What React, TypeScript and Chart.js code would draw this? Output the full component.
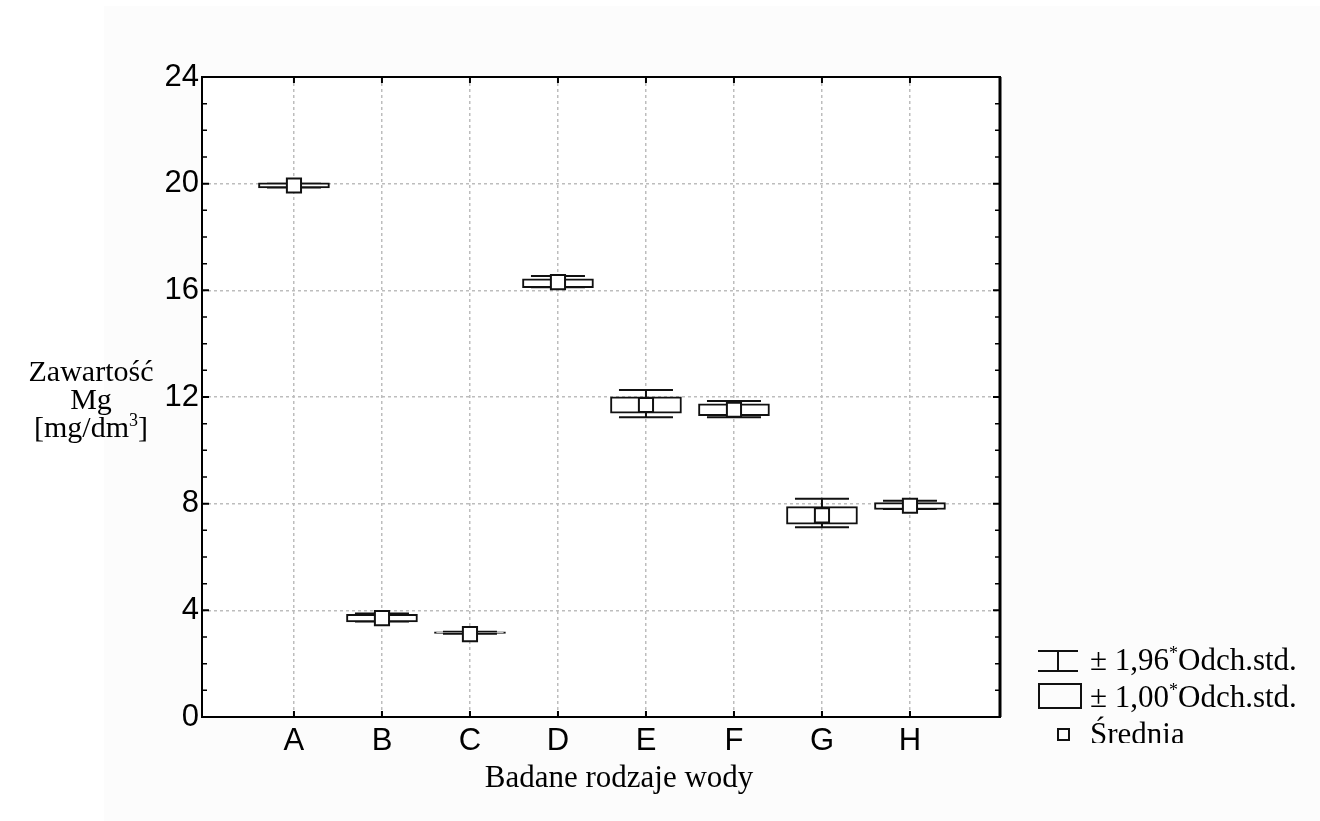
import { useEffect, useRef } from "react";
import { Chart, registerables } from "chart.js";

Chart.register(...registerables);

const categories = ["A", "B", "C", "D", "E", "F", "G", "H"];
const means = [19.93, 3.71, 3.11, 16.31, 11.7, 11.52, 7.56, 7.92];
const boxLow = [19.84, 3.57, 3.13, 16.1, 11.39, 11.3, 7.23, 7.78];
const boxHigh = [20.03, 3.85, 3.19, 16.43, 12.01, 11.74, 7.89, 8.04];
const whiskerLow = [19.86, 3.58, 3.12, 16.12, 11.24, 11.24, 7.12, 7.8];
const whiskerHigh = [20.0, 3.88, 3.2, 16.54, 12.26, 11.85, 8.18, 8.11];
const yTickValues = [0, 4, 8, 12, 16, 20, 24];

const framePlugin = {
  id: "frame",
  beforeDraw(chart: any) {
    const { ctx, chartArea: a } = chart;
    ctx.save();
    ctx.fillStyle = "#ffffff";
    ctx.fillRect(a.left, a.top, a.right - a.left, a.bottom - a.top);
    ctx.restore();
  },
  beforeDatasetsDraw(chart: any) {
    const { ctx } = chart;
    const x = chart.scales.x;
    const y = chart.scales.y;
    ctx.save();
    ctx.strokeStyle = "#111";
    ctx.lineWidth = 2;
    categories.forEach((_, i) => {
      const px = x.getPixelForValue(i + 1);
      const yh = y.getPixelForValue(whiskerHigh[i]);
      const yl = y.getPixelForValue(whiskerLow[i]);
      ctx.beginPath();
      ctx.moveTo(px, yh);
      ctx.lineTo(px, yl);
      ctx.moveTo(px - 27, yh);
      ctx.lineTo(px + 27, yh);
      ctx.moveTo(px - 27, yl);
      ctx.lineTo(px + 27, yl);
      ctx.stroke();
    });
    ctx.restore();
  },
  afterDraw(chart: any) {
    const { ctx, chartArea: a } = chart;
    const x = chart.scales.x;
    const y = chart.scales.y;
    ctx.save();
    ctx.strokeStyle = "#000";
    for (let v = 0; v <= 24; v++) {
      const py = y.getPixelForValue(v);
      const major = v % 4 === 0;
      const len = major ? 7 : 5;
      ctx.lineWidth = major ? 2 : 1.5;
      ctx.beginPath();
      ctx.moveTo(a.left, py);
      ctx.lineTo(a.left + len, py);
      ctx.moveTo(a.right, py);
      ctx.lineTo(a.right - len, py);
      ctx.stroke();
    }
    ctx.lineWidth = 2;
    categories.forEach((_, i) => {
      const px = x.getPixelForValue(i + 1);
      ctx.beginPath();
      ctx.moveTo(px, a.bottom);
      ctx.lineTo(px, a.bottom - 6);
      ctx.moveTo(px, a.top);
      ctx.lineTo(px, a.top + 6);
      ctx.stroke();
    });
    ctx.lineWidth = 2;
    ctx.strokeRect(a.left, a.top, a.right - a.left, a.bottom - a.top);
    ctx.lineWidth = 3;
    ctx.beginPath();
    ctx.moveTo(a.right, a.top);
    ctx.lineTo(a.right, a.bottom);
    ctx.stroke();
    ctx.restore();
  },
};

export default function App() {
  const ref = useRef<HTMLCanvasElement>(null);

  useEffect(() => {
    if (!ref.current) return;
    const chart = new Chart(ref.current, {
      type: "bar",
      data: {
        datasets: [
          {
            type: "scatter",
            label: "Średnia",
            data: categories.map((_, i) => ({ x: i + 1, y: means[i] })),
            pointStyle: "rect",
            pointRadius: 10,
            pointBackgroundColor: "#ffffff",
            pointBorderColor: "#111",
            pointBorderWidth: 2,
            order: 0,
          } as any,
          {
            type: "bar",
            label: "± 1,00*Odch.std.",
            data: categories.map((_, i) => ({ x: i + 1, y: [boxLow[i], boxHigh[i]] })),
            backgroundColor: "#ffffff",
            borderColor: "#111",
            borderWidth: 2,
            borderSkipped: false,
            barThickness: 71,
            order: 1,
          } as any,
        ],
      },
      options: {
        responsive: false,
        animation: false,
        devicePixelRatio: 1,
        layout: { padding: { left: 0, right: 320, top: 77, bottom: 0 } },
        plugins: {
          legend: { display: false },
          tooltip: { enabled: false },
        },
        scales: {
          x: {
            type: "linear",
            min: -0.045,
            max: 9.023,
            offset: false,
            afterBuildTicks: (scale: any) => {
              scale.ticks = categories.map((_, i) => ({ value: i + 1 }));
            },
            afterFit: (scale: any) => {
              scale.height = 104;
            },
            ticks: {
              autoSkip: false,
              maxRotation: 0,
              color: "#000",
              padding: 6,
              font: { family: "'Liberation Sans', Arial, sans-serif", size: 31 },
              callback: (v: any) => categories[Number(v) - 1] ?? "",
            },
            grid: {
              offset: false,
              color: "#bdbdbd",
              lineWidth: 1.5,
              drawTicks: false,
            },
            border: { display: false, dash: [3, 3] },
          },
          y: {
            type: "linear",
            min: 0,
            max: 24,
            afterBuildTicks: (scale: any) => {
              scale.ticks = yTickValues.map((v) => ({ value: v }));
            },
            afterFit: (scale: any) => {
              scale.width = 202;
            },
            ticks: {
              color: "#000",
              padding: 3,
              font: { family: "'Liberation Sans', Arial, sans-serif", size: 31 },
            },
            grid: {
              color: "#bdbdbd",
              lineWidth: 1.5,
              drawTicks: false,
            },
            border: { display: false, dash: [3, 3] },
          },
        },
      },
      plugins: [framePlugin],
    });
    return () => chart.destroy();
  }, []);

  const serif = "'Liberation Serif', 'Times New Roman', serif";

  return (
    <div
      style={{
        position: "fixed",
        left: 0,
        top: 0,
        width: 1320,
        height: 821,
        background: "#ffffff",
        overflow: "hidden",
      }}
    >
      <div
        style={{
          position: "absolute",
          left: 104,
          top: 6,
          width: 1216,
          height: 815,
          background: "#fcfcfc",
        }}
      />
      <canvas
        ref={ref}
        width={1320}
        height={821}
        style={{ position: "absolute", left: 0, top: 0, width: 1320, height: 821 }}
      />
      <div
        style={{
          position: "absolute",
          left: 0,
          top: 357,
          width: 182,
          textAlign: "center",
          fontFamily: serif,
          fontSize: 30,
          lineHeight: "28px",
          color: "#000",
        }}
      >
        <div>Zawartość</div>
        <div>Mg</div>
        <div>
          [mg/dm<sup style={{ fontSize: 18, lineHeight: 0 }}>3</sup>]
        </div>
      </div>
      <div
        style={{
          position: "absolute",
          left: 419,
          top: 758,
          width: 400,
          textAlign: "center",
          fontFamily: serif,
          fontSize: 31,
          lineHeight: "38px",
          color: "#000",
        }}
      >
        Badane rodzaje wody
      </div>
      <div
        style={{
          position: "absolute",
          left: 1030,
          top: 641,
          width: 290,
          height: 102,
          overflow: "hidden",
          fontFamily: serif,
          fontSize: 31,
          lineHeight: "37px",
          color: "#000",
        }}
      >
        <div style={{ position: "relative", height: 37, whiteSpace: "nowrap" }}>
          <div style={{ position: "absolute", left: 8, top: 9, width: 40, height: 0, borderTop: "2px solid #111" }} />
          <div style={{ position: "absolute", left: 27, top: 9, width: 0, height: 21, borderLeft: "2px solid #111" }} />
          <div style={{ position: "absolute", left: 8, top: 29, width: 40, height: 0, borderTop: "2px solid #111" }} />
          <span style={{ position: "absolute", left: 60, top: 0 }}>
            ± 1,96<sup style={{ fontSize: 18, lineHeight: 0 }}>*</sup>Odch.std.
          </span>
        </div>
        <div style={{ position: "relative", height: 37, whiteSpace: "nowrap" }}>
          <div style={{ position: "absolute", left: 8, top: 5, width: 40, height: 22, border: "2px solid #111" }} />
          <span style={{ position: "absolute", left: 60, top: 0 }}>
            ± 1,00<sup style={{ fontSize: 18, lineHeight: 0 }}>*</sup>Odch.std.
          </span>
        </div>
        <div style={{ position: "relative", height: 37, whiteSpace: "nowrap" }}>
          <div style={{ position: "absolute", left: 27, top: 13, width: 9, height: 9, border: "2px solid #111" }} />
          <span style={{ position: "absolute", left: 60, top: 0 }}>Średnia</span>
        </div>
      </div>
    </div>
  );
}
